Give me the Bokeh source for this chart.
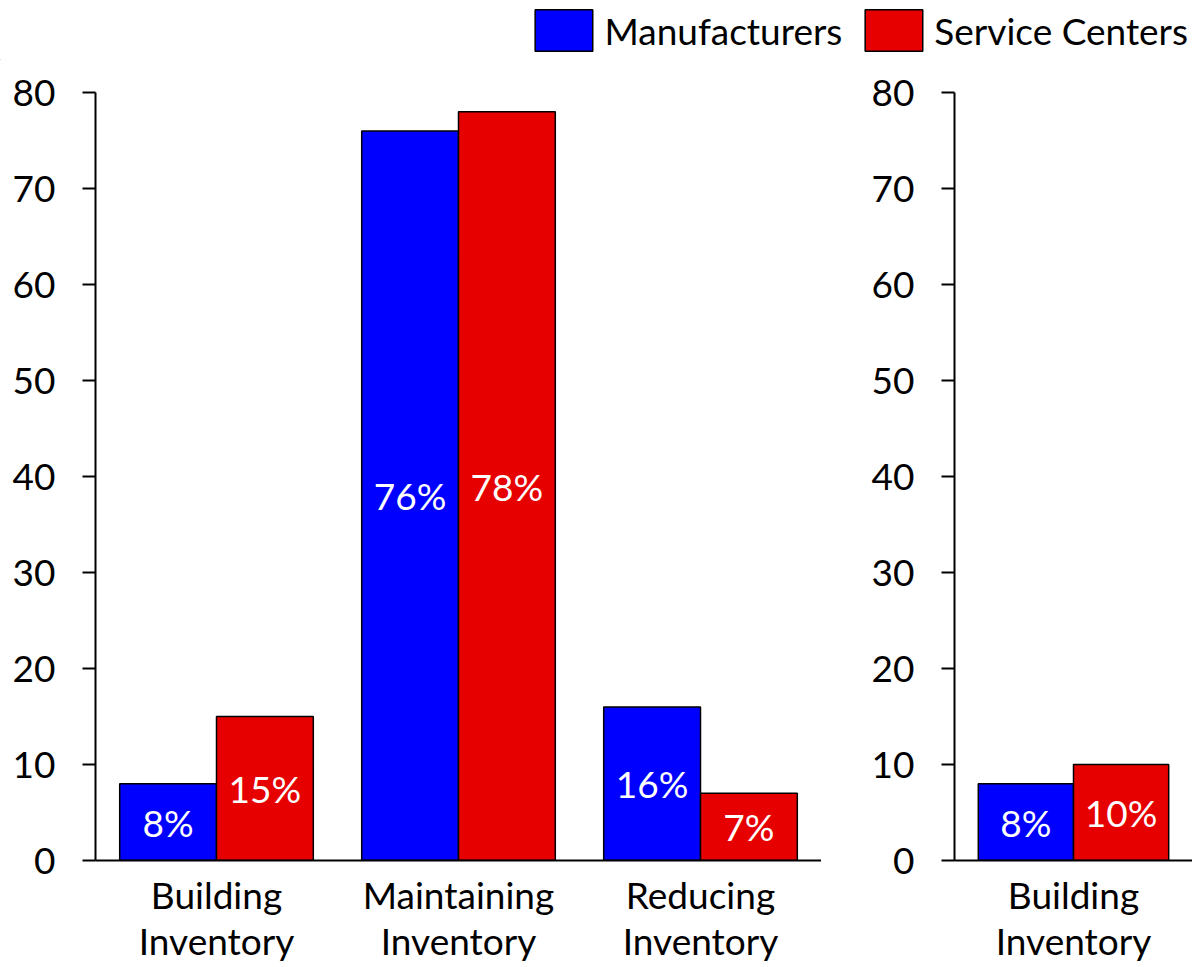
from bokeh.plotting import figure
from bokeh.models import ColumnDataSource, FixedTicker, Legend, LegendItem, FactorRange, Range1d
from bokeh.layouts import column, row
from bokeh.transform import dodge
from bokeh.core.properties import value
from bokeh.embed import file_html
from bokeh.resources import INLINE

# ---- data ----
series = ["Manufacturers", "Service Centers"]
colors = ["#0000FF", "#E60000"]
left_categories = ["Building Inventory", "Maintaining Inventory", "Reducing Inventory"]
left_manufacturers = [8, 76, 16]
left_service_centers = [15, 78, 7]
right_categories = ["Building Inventory"]
right_manufacturers = [8]
right_service_centers = [10]
y_ticks = [0, 10, 20, 30, 40, 50, 60, 70, 80]

FONT = "Lato"
FS = "37px"
MAIN_H = 906


def make_panel(cats, m_vals, s_vals, width, border_left):
    factors = [c.replace(" ", "\n") for c in cats]
    src = ColumnDataSource(dict(
        cat=factors, m=m_vals, s=s_vals,
        m_half=[v / 2 for v in m_vals], s_half=[v / 2 for v in s_vals],
        m_lab=[f"{v}%" for v in m_vals], s_lab=[f"{v}%" for v in s_vals]))
    p = figure(x_range=FactorRange(*factors), y_range=Range1d(0, 80),
               width=width, height=MAIN_H, output_backend="svg", toolbar_location=None,
               min_border_left=border_left, min_border_right=0,
               min_border_top=32, min_border_bottom=106)
    p.outline_line_color = None
    p.grid.visible = False
    for key, half, lab, off, col in (("m", "m_half", "m_lab", -0.2, colors[0]),
                                       ("s", "s_half", "s_lab", 0.2, colors[1])):
        p.vbar(x=dodge("cat", off, range=p.x_range), top=key, width=0.4, source=src,
               fill_color=col, line_color="black", line_width=1.5)
        p.text(x=dodge("cat", off, range=p.x_range), y=half, text=lab, source=src,
               text_color="white", text_font=value(FONT), text_font_size=FS,
               text_align="center", text_baseline="middle")
    p.yaxis.ticker = FixedTicker(ticks=y_ticks)
    p.yaxis.minor_tick_line_color = None
    p.yaxis.major_tick_out = 13
    p.yaxis.major_tick_in = 0
    p.yaxis.major_label_standoff = 27
    p.xaxis.major_tick_out = 0
    p.xaxis.major_tick_in = 0
    p.xaxis.major_label_standoff = 11
    p.xaxis.major_label_text_line_height = 1.03
    for ax in (p.xaxis, p.yaxis):
        ax.axis_line_width = 2
        ax.axis_line_color = "black"
        ax.major_tick_line_width = 2
        ax.major_tick_line_color = "black"
        ax.major_label_text_font = FONT
        ax.major_label_text_font_size = FS
        ax.major_label_text_color = "black"
    return p


left = make_panel(left_categories, left_manufacturers, left_service_centers, 821, 95)
right = make_panel(right_categories, right_manufacturers, right_service_centers, 371, 133)

# legend figure (legend swatches come from renderers lying outside its visible range)
lf = figure(width=1192, height=60, output_backend="svg", toolbar_location=None,
            x_range=Range1d(0, 1), y_range=Range1d(0, 1),
            x_axis_location=None, y_axis_location=None, min_border=0)
lf.grid.visible = False
lf.outline_line_color = None
items = []
for name, col in zip(series, colors):
    r = lf.vbar(x=[-5], top=[-5], bottom=[-6], width=0.1, fill_color=col,
                line_color="black", line_width=1.5)
    items.append(LegendItem(label=name, renderers=[r]))
legend = Legend(items=items, orientation="horizontal", location="top_right",
                margin=4, padding=0, border_line_color=None, background_fill_alpha=0,
                glyph_width=72, glyph_height=52, label_standoff=5, spacing=15,
                label_text_font=FONT, label_text_font_size=FS, label_text_color="black")
lf.add_layout(legend)

layout = column(lf, row(left, right, spacing=0), spacing=0)
open("out.html", "w").write(file_html(layout, INLINE))
